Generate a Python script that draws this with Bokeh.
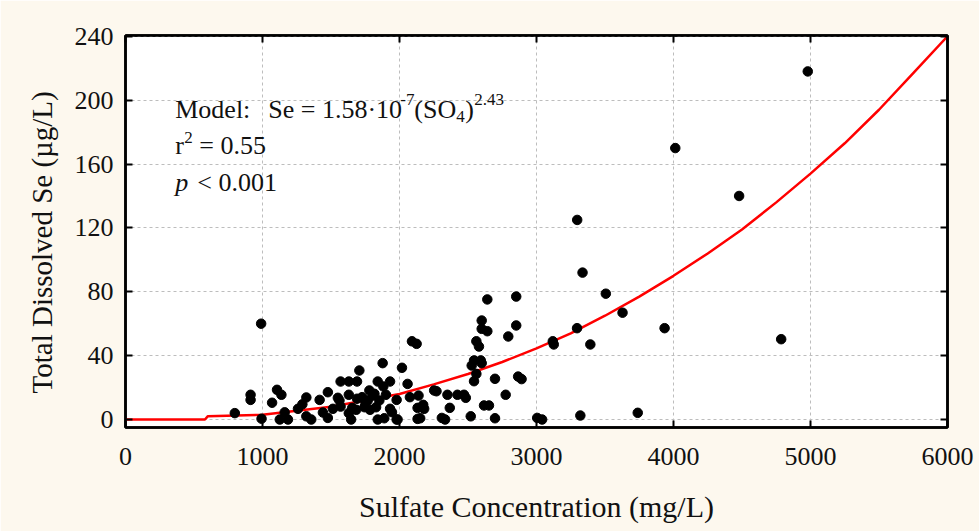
from bokeh.plotting import figure
from bokeh.models import Range1d, FixedTicker, LinearAxis, Label
from bokeh.embed import file_html
from bokeh.resources import INLINE

# ---- data ----
sulfate = [798, 913, 913, 990, 993, 1070, 1106, 1138, 1126, 1162, 1186, 1259, 1291, 1320,
           1320, 1356, 1417, 1441, 1477, 1477, 1514, 1550, 1562, 1570, 1630, 1630, 1570,
           1630, 1647, 1655, 1684, 1690, 1707, 1690, 1727, 1744, 1751, 1768, 1785, 1780,
           1805, 1817, 1829, 1841, 1841, 1853, 1877, 1882, 1889, 1901, 1931, 1931, 1945,
           1979, 1979, 1986, 2018, 2059, 2076, 2091, 2125, 2132, 2132, 2139, 2151, 2163,
           2173, 2180, 2253, 2270, 2309, 2333, 2350, 2367, 2423, 2471, 2484, 2520, 2527,
           2544, 2561, 2580, 2561, 2544, 2593, 2600, 2600, 2600, 2641, 2641, 2617, 2653,
           2697, 2697, 2775, 2794, 2852, 2852, 2866, 2891, 3005, 3041, 3119, 3126, 3296,
           3297, 3320, 3336, 3393, 3506, 3628, 3739, 3935, 4013, 4479, 4786, 4980]
selenium = [4, 15.5, 12.3, 60, 0.5, 10.5, 18.6, 15.5, 0, 4.5, 0, 6.7, 9.5, 13.8,
            2, 0, 12.3, 4.4, 17.1, 1, 6.7, 13.6, 11.9, 23.8, 23.8, 15.5, 8.1,
            4, 0, 7.3, 6.1, 23.8, 30.7, 13, 14, 7.7, 10.8, 11.9, 6.1, 18.2,
            15, 16.1, 7.7, 23.8, 0, 11.9, 35.3, 20.7, 0.8, 15.5, 23.8, 6.7, 4.6,
            0, 12.3, 0, 32.4, 22.3, 14, 49, 47.4, 7.3, 0.4, 15, 0.8, 7.7,
            9.2, 6.7, 18.2, 17.7, 1, 0, 15.5, 7.3, 15.5, 15.5, 13.6, 2, 33.8,
            37, 49, 45.7, 28.6, 24, 37, 35.3, 62, 56.8, 55.3, 75.2, 8.8, 8.8,
            25.5, 0.8, 15.5, 52, 58.9, 77, 26.9, 25.3, 1, 0, 49, 47, 57.2,
            125, 2.5, 92, 47, 78.8, 66.9, 4.2, 57.2, 170, 140, 50.3, 218]

model_x = [0, 580, 600, 1000, 1500, 2000, 2250, 2500, 2750, 3000, 3250, 3500, 3750,
           4000, 4250, 4500, 4750, 5000, 5250, 5500, 5750, 6000]
model_y = [0, 0, 2, 3, 8, 16, 22, 28.5, 36, 44.5, 54, 65, 77,
           90, 104, 119, 136, 154, 173, 194, 217, 240]

x_ticks = [0, 1000, 2000, 3000, 4000, 5000, 6000]
y_ticks = [0, 40, 80, 120, 160, 200, 240]

SERIF = "Liberation Serif"

p = figure(width=979, height=531, output_backend="svg", toolbar_location=None,
           x_range=Range1d(0, 6000), y_range=Range1d(-5, 240.5),
           min_border_left=125, min_border_right=32, min_border_top=35,
           min_border_bottom=104)
p.background_fill_color = "white"
p.border_fill_color = "#fdf8ee"
p.outline_line_color = "black"
p.outline_line_width = 2.5

for g in (p.xgrid, p.ygrid):
    g.grid_line_color = "#bdbdbd"
    g.grid_line_dash = "3 3"
    g.grid_line_width = 1
p.xgrid.ticker = FixedTicker(ticks=x_ticks)
p.ygrid.ticker = FixedTicker(ticks=y_ticks)

def style_axis(ax, ticks, show_labels):
    ax.ticker = FixedTicker(ticks=ticks)
    ax.major_tick_in = 7
    ax.major_tick_out = 0
    ax.major_tick_line_width = 2
    ax.major_tick_line_color = "black"
    ax.minor_tick_line_color = None
    ax.axis_line_color = "black"
    ax.axis_line_width = 2.5
    if show_labels:
        ax.major_label_text_font = SERIF
        ax.major_label_text_font_size = "26px"
        ax.major_label_text_color = "#111111"
        ax.axis_label_text_font = SERIF
        ax.axis_label_text_font_size = "30px"
        ax.axis_label_text_font_style = "normal"
        ax.axis_label_text_color = "#111111"
    else:
        ax.major_label_text_font_size = "0px"
        ax.major_label_text_color = None
        ax.major_label_standoff = 0

xa = p.xaxis[0]
ya = p.yaxis[0]
style_axis(xa, x_ticks, True)
style_axis(ya, y_ticks, True)
xa.axis_label = "Sulfate Concentration (mg/L)"
ya.axis_label = "Total Dissolved Se (µg/L)\u00a0\u00a0\u00a0"
ya.axis_label_text_font_size = "29px"
xa.major_label_standoff = 20
xa.axis_label_standoff = 22
ya.major_label_standoff = 12
ya.axis_label_standoff = 14

top_ax = LinearAxis()
style_axis(top_ax, x_ticks, False)
p.add_layout(top_ax, "above")
right_ax = LinearAxis()
style_axis(right_ax, y_ticks, False)
p.add_layout(right_ax, "right")

p.line(model_x, model_y, line_color="#ff0000", line_width=2.5)
p.scatter(sulfate, selenium, size=9.5, fill_color="black", line_color="black")

# ---- annotation text ----
def lab(x, y, text, size="26px", style="normal"):
    p.add_layout(Label(x=x, y=y, text=text, text_font=SERIF, text_font_size=size,
                       text_font_style=style, text_color="#111111",
                       text_baseline="alphabetic", text_align="left"))

lab(363, 194.4, "Model:")
lab(1042, 194.4, "Se = 1.58·10")
lab(2006, 200.5, "-7", size="17px")
lab(2108, 194.4, "(SO")
lab(2414, 190.0, "4", size="17px")
lab(2480, 194.4, ")")
lab(2546, 200.5, "2.43", size="17px")
lab(363, 171.7, "r")
lab(429, 176.7, "2", size="17px")
lab(539, 171.7, "= 0.55")
lab(363, 148.5, "p", style="italic")
lab(524, 148.5, "< 0.001")

open("out.html", "w").write(file_html(p, INLINE))
